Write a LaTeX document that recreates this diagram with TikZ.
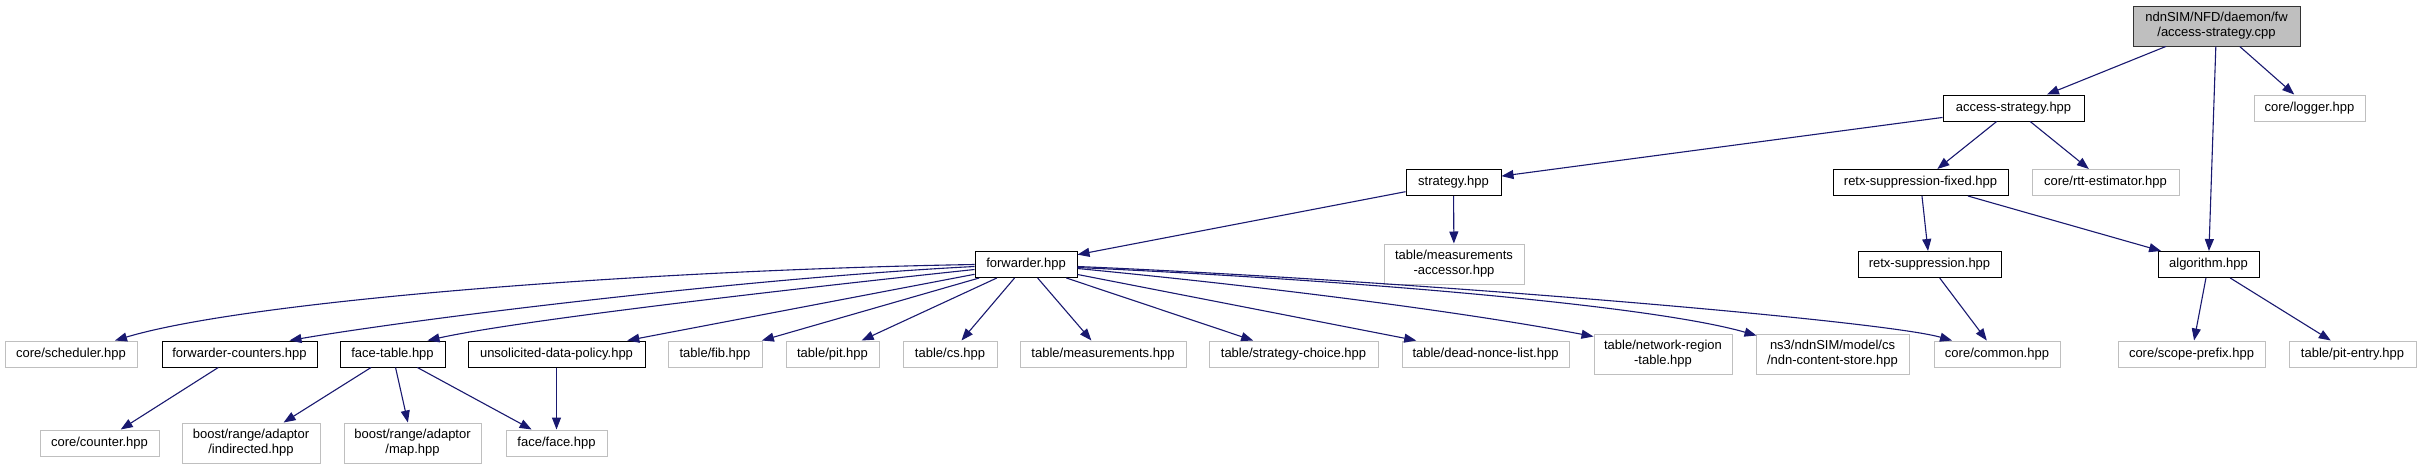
\documentclass[tikz,border=0pt]{standalone}
\usepackage{fontspec}
\setmainfont{Liberation Sans}
\usetikzlibrary{arrows.meta}
\definecolor{edgeblue}{HTML}{191970}
\definecolor{boxgray}{HTML}{BFBFBF}
\definecolor{rootfill}{HTML}{BFBFBF}
\newcommand\dgfont{\fontsize{13}{15}\selectfont}
\tikzset{
  box/.style={draw=black, line width=1pt, inner sep=0pt, font=\dgfont, align=center, minimum height=26pt, fill=white},
  gbox/.style={box, draw=boxgray},
  rootbox/.style={box, draw=black!80, fill=rootfill},
  dep/.style={draw=edgeblue, line width=1.1pt, -{Triangle[length=12pt,width=9pt]}},
}
\begin{document}
\begin{tikzpicture}[x=1pt,y=-1pt]
\useasboundingbox (0,0) rectangle (2421,469);
\fill[white] (0,0) rectangle (2421,469);

% row 0
\node[rootbox, minimum width=167pt, minimum height=40pt] (root) at (2216.5,26) {ndnSIM/NFD/daemon/fw\\/access-strategy.cpp};
% row 1
\node[box, minimum width=141pt] (as) at (2013.5,108) {access-strategy.hpp};
\node[gbox, minimum width=111pt] (logger) at (2309.5,108) {core/logger.hpp};
% row 2
\node[box, minimum width=95pt] (strat) at (1453.5,182.5) {strategy.hpp};
\node[box, minimum width=175pt] (rsf) at (1920.5,182.5) {retx-suppression-fixed.hpp};
\node[gbox, minimum width=147pt] (rtt) at (2105.5,182.5) {core/rtt-estimator.hpp};
% row 3
\node[gbox, minimum width=140pt, minimum height=40pt] (ma) at (1454,264) {table/measurements\\-accessor.hpp};
\node[box, minimum width=102pt] (fwd) at (1026,264.5) {forwarder.hpp};
\node[box, minimum width=143pt] (rs) at (1929.5,264.5) {retx-suppression.hpp};
\node[box, minimum width=101pt] (alg) at (2208.5,264.5) {algorithm.hpp};
% row 4
\node[gbox, minimum width=132pt] (sched) at (71,354) {core/scheduler.hpp};
\node[box, minimum width=155pt] (fc) at (239.5,354) {forwarder-counters.hpp};
\node[box, minimum width=105pt] (ft) at (392.5,354) {face-table.hpp};
\node[box, minimum width=177pt] (udp) at (556.5,354) {unsolicited-data-policy.hpp};
\node[gbox, minimum width=94pt] (fib) at (715,354) {table/fib.hpp};
\node[gbox, minimum width=93pt] (pit) at (832.5,354) {table/pit.hpp};
\node[gbox, minimum width=94pt] (cs) at (950,354) {table/cs.hpp};
\node[gbox, minimum width=166pt] (meas) at (1103,354) {table/measurements.hpp};
\node[gbox, minimum width=169pt] (sc) at (1293.5,354) {table/strategy-choice.hpp};
\node[gbox, minimum width=167pt] (dnl) at (1485.5,354) {table/dead-nonce-list.hpp};
\node[gbox, minimum width=138pt, minimum height=40pt] (nr) at (1663,354) {table/network-region\\-table.hpp};
\node[gbox, minimum width=153pt, minimum height=40pt] (ns3) at (1832.5,354) {ns3/ndnSIM/model/cs\\/ndn-content-store.hpp};
\node[gbox, minimum width=126pt] (common) at (1997,354) {core/common.hpp};
\node[gbox, minimum width=147pt] (scope) at (2191.5,354) {core/scope-prefix.hpp};
\node[gbox, minimum width=127pt] (pe) at (2352.5,354) {table/pit-entry.hpp};
% row 5
\node[gbox, minimum width=119pt] (counter) at (99.5,443) {core/counter.hpp};
\node[gbox, minimum width=138pt, minimum height=40pt] (ind) at (251,443) {boost/range/adaptor\\/indirected.hpp};
\node[gbox, minimum width=137pt, minimum height=40pt] (map) at (412.5,443) {boost/range/adaptor\\/map.hpp};
\node[gbox, minimum width=101pt] (face) at (556.5,443) {face/face.hpp};

% edges
\draw[dep] (root) -- (as);
\draw[dep] (root) -- (alg);
\draw[dep] (root) -- (logger);
\draw[dep] (as) -- (strat);
\draw[dep] (as) -- (rsf);
\draw[dep] (as) -- (rtt);
\draw[dep] (strat) -- (fwd);
\draw[dep] (strat) -- (ma);
\draw[dep] (rsf) -- (rs);
\draw[dep] (rsf) -- (alg);
\draw[dep] (rs) -- (common);
\draw[dep] (alg) -- (scope);
\draw[dep] (alg) -- (pe);

\draw[dep] (fwd.west) .. controls (650,270) and (250,300) .. ([xshift=44pt]sched.north);
\draw[dep] ([yshift=-2pt]fwd.west) .. controls (750,278) and (420,318) .. ([xshift=50pt]fc.north);
\draw[dep] ([yshift=-5pt]fwd.west) .. controls (800,288) and (520,320) .. ([xshift=35pt]ft.north);
\draw[dep] (fwd) -- (udp);
\draw[dep] (fwd) -- (fib);
\draw[dep] (fwd) -- (pit);
\draw[dep] (fwd) -- (cs);
\draw[dep] (fwd) -- (meas);
\draw[dep] (fwd) -- (sc);
\draw[dep] (fwd) -- (dnl);
\draw[dep] ([yshift=-4pt]fwd.east) .. controls (1300,290) and (1480,315) .. ([yshift=-3pt]nr.north west);
\draw[dep] ([yshift=-3pt]fwd.east) .. controls (1350,280) and (1650,305) .. ([xshift=1pt,yshift=-2pt]ns3.north west);
\draw[dep] ([yshift=-2pt]fwd.east) .. controls (1400,280) and (1880,320) .. ([xshift=-45pt]common.north);

\draw[dep] (fc) -- (counter);
\draw[dep] (ft) -- (ind);
\draw[dep] (ft) -- (map);
\draw[dep] (ft) -- (face);
\draw[dep] (udp) -- (face);
\end{tikzpicture}
\end{document}
